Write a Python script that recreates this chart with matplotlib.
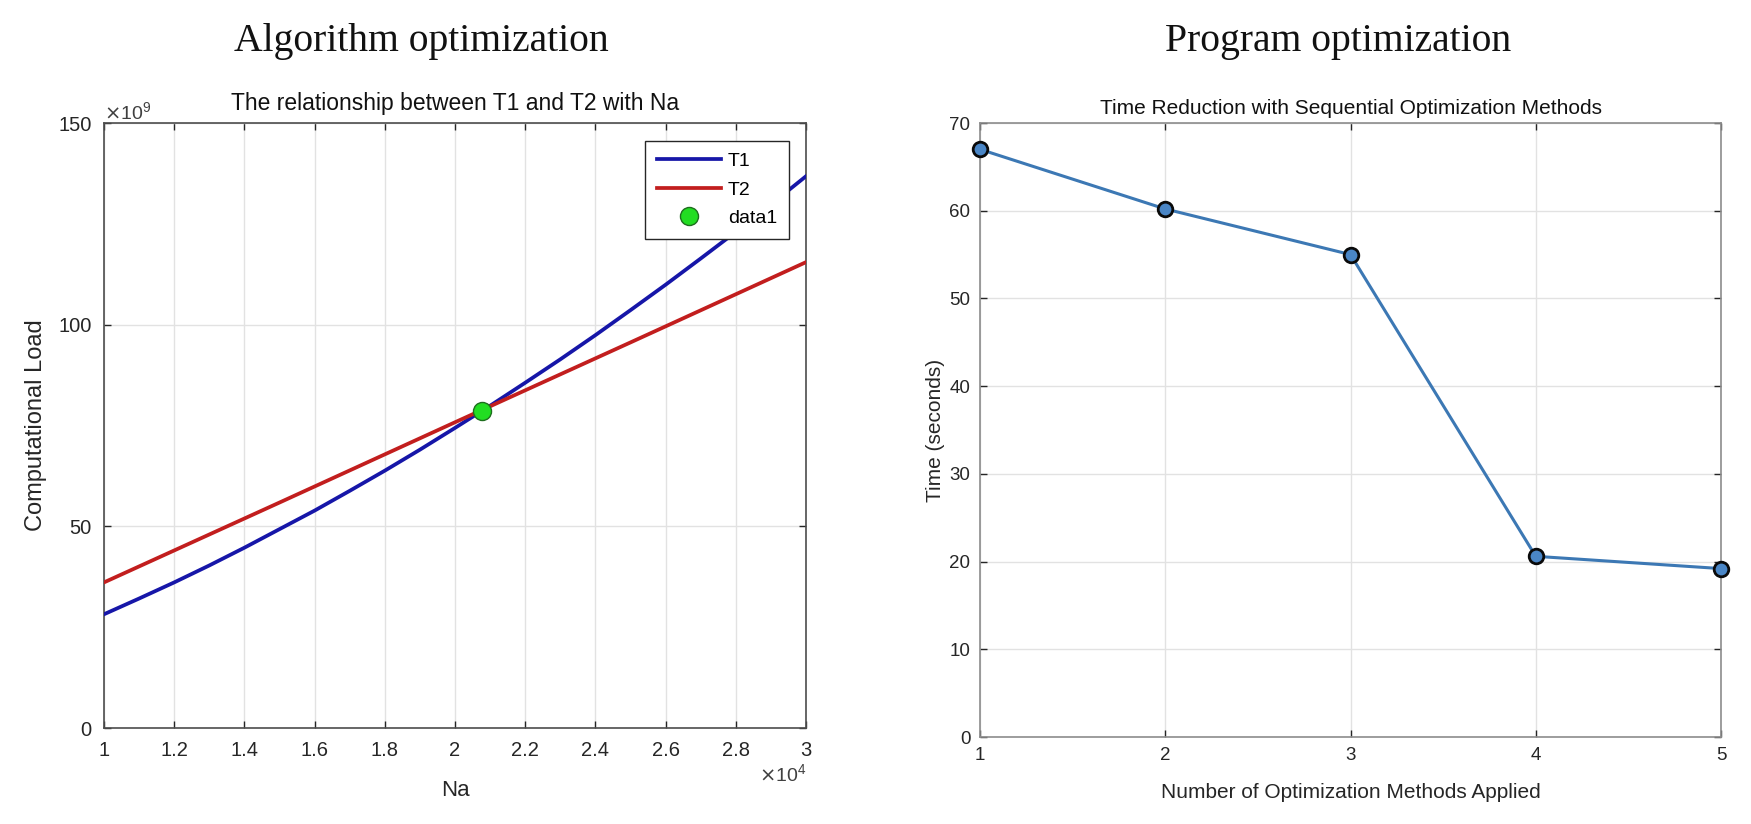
import matplotlib
matplotlib.use("Agg")
import matplotlib.pyplot as plt
from matplotlib.ticker import ScalarFormatter
import numpy as np

plt.rcParams['font.family'] = ['Liberation Sans', 'DejaVu Sans']

# ---------------- data ----------------
na_e4 = [1.0, 1.1, 1.2, 1.3, 1.4, 1.5, 1.6, 1.7, 1.8, 1.9, 2.0,
         2.1, 2.2, 2.3, 2.4, 2.5, 2.6, 2.7, 2.8, 2.9, 3.0]
t1_e9 = [28.2, 32.1, 36.1, 40.3, 44.7, 49.3, 53.9, 58.8, 63.8, 69.0, 74.4,
         79.9, 85.6, 91.4, 97.4, 103.6, 109.9, 116.4, 123.0, 129.8, 136.8]
t2_na_e4 = [1.0, 1.5, 2.0, 2.5, 3.0]
t2_e9 = [36.1, 55.9, 75.8, 95.6, 115.5]
cross_na_e4 = [2.077]
cross_e9 = [78.6]

methods = [1, 2, 3, 4, 5]
times = [67.0, 60.2, 55.0, 20.6, 19.2]

left_xticks_e4 = [1, 1.2, 1.4, 1.6, 1.8, 2, 2.2, 2.4, 2.6, 2.8, 3]
left_yticks_e9 = [0, 50, 100, 150]
right_yticks = [0, 10, 20, 30, 40, 50, 60, 70]


class GFormatter(ScalarFormatter):
    def _set_format(self):
        self.format = '%g'


def fixed_formatter(order):
    f = GFormatter(useMathText=True)
    f.set_powerlimits((order, order))
    return f


W, H = 1751, 824
fig = plt.figure(figsize=(W / 100, H / 100), dpi=100)


def frac_axes(l, t, r, b):
    return fig.add_axes([l / W, 1 - b / H, (r - l) / W, (b - t) / H])


# ---------------- left chart ----------------
ax1 = frac_axes(104, 123, 806, 728)
ax1.plot(np.array(na_e4) * 1e4, np.array(t1_e9) * 1e9, color='#1616A8', lw=2.7,
         label='T1', zorder=3)
ax1.plot(np.array(t2_na_e4) * 1e4, np.array(t2_e9) * 1e9, color='#C21E1E', lw=2.7,
         label='T2', zorder=3)
ax1.plot(np.array(cross_na_e4) * 1e4, np.array(cross_e9) * 1e9, 'o', ms=13,
         mfc='#22DD22', mec='#1E6E1E', mew=1.0, label='data1', zorder=4, lw=0)
ax1.set_xlim(1e4, 3e4)
ax1.set_ylim(0, 150e9)
ax1.set_xticks(np.array(left_xticks_e4) * 1e4)
ax1.set_yticks(np.array(left_yticks_e9) * 1e9)
ax1.xaxis.set_major_formatter(fixed_formatter(4))
ax1.yaxis.set_major_formatter(fixed_formatter(9))
ax1.grid(True, color='#E2E2E2', lw=1.0)
ax1.set_axisbelow(True)
ax1.tick_params(direction='in', top=True, right=True, length=5, width=1,
                labelsize=14.5, colors='#262626', pad=9)
for s in ax1.spines.values():
    s.set_color('#4D4D4D')
    s.set_linewidth(1.2)
for ot in (ax1.xaxis.get_offset_text(), ax1.yaxis.get_offset_text()):
    ot.set_fontsize(14)
    ot.set_color('#404040')
ax1.set_xlabel('Na', fontsize=16, color='#262626')
ax1.xaxis.set_label_coords(0.5, -(790 - 728) / 605)
ax1.xaxis.label.set_verticalalignment('center')
ax1.set_ylabel('Computational Load', fontsize=17, color='#262626')
ax1.yaxis.set_label_coords(-(104 - 36) / 702, 0.5)
ax1.yaxis.label.set_verticalalignment('center')
ax1.text(0.5, 1 + (123 - 103) / 605, 'The relationship between T1 and T2 with Na',
         transform=ax1.transAxes, ha='center', va='center', fontsize=16.5, color='#111111')
leg = ax1.legend(loc='upper right', bbox_to_anchor=(1 - 17 / 702, 1 - 18 / 605),
                 borderaxespad=0, fontsize=14, frameon=True, fancybox=False,
                 edgecolor='#262626', handlelength=3.3, handletextpad=0.35,
                 labelspacing=0.55, borderpad=0.6, framealpha=1)
leg.get_frame().set_linewidth(1.0)

# ---------------- right chart ----------------
ax2 = frac_axes(980, 123, 1721, 737)
ax2.plot(methods, times, '-o', color='#3C78B4', lw=2.2, ms=10.5,
         mfc='#4A86C6', mec='#0A0A0A', mew=2.0, zorder=3, clip_on=False)
ax2.set_xlim(1, 5)
ax2.set_ylim(0, 70)
ax2.set_xticks(methods)
ax2.set_yticks(right_yticks)
ax2.grid(True, color='#E2E2E2', lw=1.0)
ax2.set_axisbelow(True)
ax2.tick_params(direction='in', top=True, right=True, length=5, width=1,
                labelsize=13.5, colors='#262626', pad=7)
for s in ax2.spines.values():
    s.set_color('#8C8C8C')
    s.set_linewidth(1.2)
ax2.set_xlabel('Number of Optimization Methods Applied', fontsize=15, color='#262626')
ax2.xaxis.set_label_coords(0.5, -(793 - 737) / 614)
ax2.xaxis.label.set_verticalalignment('center')
ax2.set_ylabel('Time (seconds)', fontsize=15, color='#262626')
ax2.yaxis.set_label_coords(-(980 - 935) / 741, 0.5)
ax2.yaxis.label.set_verticalalignment('center')
ax2.text(0.5, 1 + (123 - 108) / 614, 'Time Reduction with Sequential Optimization Methods',
         transform=ax2.transAxes, ha='center', va='center', fontsize=15, color='#111111')

# ---------------- panel titles ----------------
fig.text(421 / W, 1 - 42 / H, 'Algorithm optimization', family='Liberation Serif',
         fontsize=28.5, ha='center', va='center', color='#111111')
fig.text(1338 / W, 1 - 42 / H, 'Program optimization', family='Liberation Serif',
         fontsize=28.5, ha='center', va='center', color='#111111')

fig.savefig('out.png', dpi=100)
